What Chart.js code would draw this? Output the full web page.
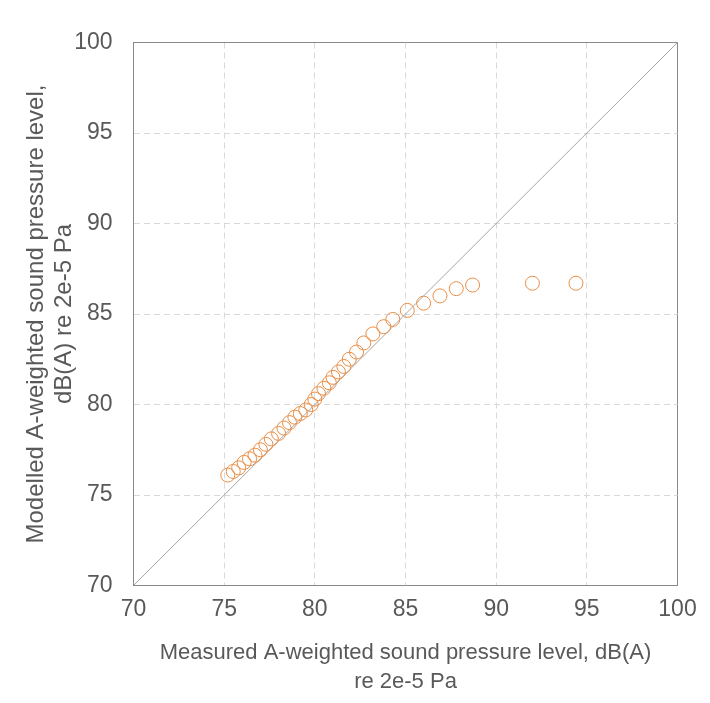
<!DOCTYPE html>
<html>
<head>
<meta charset="utf-8">
<script src="https://cdn.jsdelivr.net/npm/chart.js@4/dist/chart.umd.min.js"></script>
<style>
  html, body { margin: 0; padding: 0; background: #ffffff; }
  #wrap { width: 710px; height: 703px; }
</style>
</head>
<body>
<div id="wrap"><canvas id="c" width="710" height="703"></canvas></div>
<script>
// Measured vs modelled A-weighted SPL, dB(A)
const measured = [75.2, 75.5, 75.8, 76.1, 76.4, 76.7, 77.0, 77.3, 77.6, 78.0, 78.3, 78.6, 78.9, 79.2, 79.5, 79.8, 80.0, 80.2, 80.5, 80.8, 81.0, 81.3, 81.6, 81.9, 82.3, 82.7, 83.2, 83.8, 84.3, 85.1, 86.0, 86.9, 87.8, 88.7, 92.0, 94.4];
const modelled = [76.1, 76.3, 76.5, 76.8, 77.0, 77.2, 77.5, 77.8, 78.1, 78.4, 78.7, 79.0, 79.3, 79.5, 79.7, 80.0, 80.3, 80.6, 80.9, 81.2, 81.5, 81.8, 82.1, 82.5, 82.9, 83.4, 83.9, 84.3, 84.7, 85.2, 85.6, 86.0, 86.4, 86.6, 86.7, 86.7];
const diagonalX = [70, 100];
const diagonalY = [70, 100];
const axisTicks = [70, 75, 80, 85, 90, 95, 100];
const xTitle = ['Measured A-weighted sound pressure level, dB(A)', 're 2e-5 Pa'];
const yTitle = ['Modelled A-weighted sound pressure level,', 'dB(A) re 2e-5 Pa'];

const FONT = "'Liberation Sans', Arial, sans-serif";
const TEXT = '#595959';
const GRID = '#d9d9d9';
const FRAME = '#898989';

const points = measured.map((x, i) => ({ x: x, y: modelled[i] }));
const diag = diagonalX.map((x, i) => ({ x: x, y: diagonalY[i] }));

function axis(pos, title, fitSize) {
  const isX = pos === 'bottom';
  return {
    type: 'linear',
    position: pos,
    min: axisTicks[0],
    max: axisTicks[axisTicks.length - 1],
    afterBuildTicks: s => { s.ticks = axisTicks.map(v => ({ value: v })); },
    ticks: {
      color: TEXT,
      font: { family: FONT, size: 23 },
      padding: isX ? 10 : 21
    },
    grid: {
      drawTicks: false,
      lineWidth: 1,
      color: c => (c.tick && c.tick.value === 100) ? FRAME : GRID
    },
    border: {
      display: true,
      color: FRAME,
      width: 1,
      dash: c => (c.tick && c.tick.value !== 100) ? [6, 4] : []
    },
    title: {
      display: true,
      text: title,
      color: TEXT,
      font: isX ? { family: FONT, size: 22, lineHeight: 1.3 } : { family: FONT, size: 24, lineHeight: 1.17 },
      padding: isX ? { top: 0, bottom: 7 } : { top: 22, bottom: 0 }
    },
    afterFit: s => { if (isX) { s.height = fitSize; } else { s.width = fitSize; } }
  };
}

new Chart(document.getElementById('c'), {
  type: 'scatter',
  data: {
    datasets: [
      {
        label: 'Modelled vs measured',
        data: points,
        pointStyle: 'circle',
        pointRadius: 7,
        pointBorderWidth: 1,
        pointBackgroundColor: 'rgba(0,0,0,0)',
        pointBorderColor: '#E98E46',
        showLine: false,
        order: 1
      },
      {
        label: '1:1',
        data: diag,
        showLine: true,
        pointRadius: 0,
        borderColor: '#a6a6a6',
        borderWidth: 1,
        order: 2
      }
    ]
  },
  options: {
    responsive: false,
    animation: false,
    devicePixelRatio: 1,
    layout: { padding: { left: 0, right: 32.5, top: 42.5, bottom: 0 } },
    plugins: {
      legend: { display: false },
      tooltip: { enabled: false }
    },
    scales: {
      x: axis('bottom', xTitle, 117.5),
      y: axis('left', yTitle, 133.5)
    }
  }
});
</script>
</body>
</html>
